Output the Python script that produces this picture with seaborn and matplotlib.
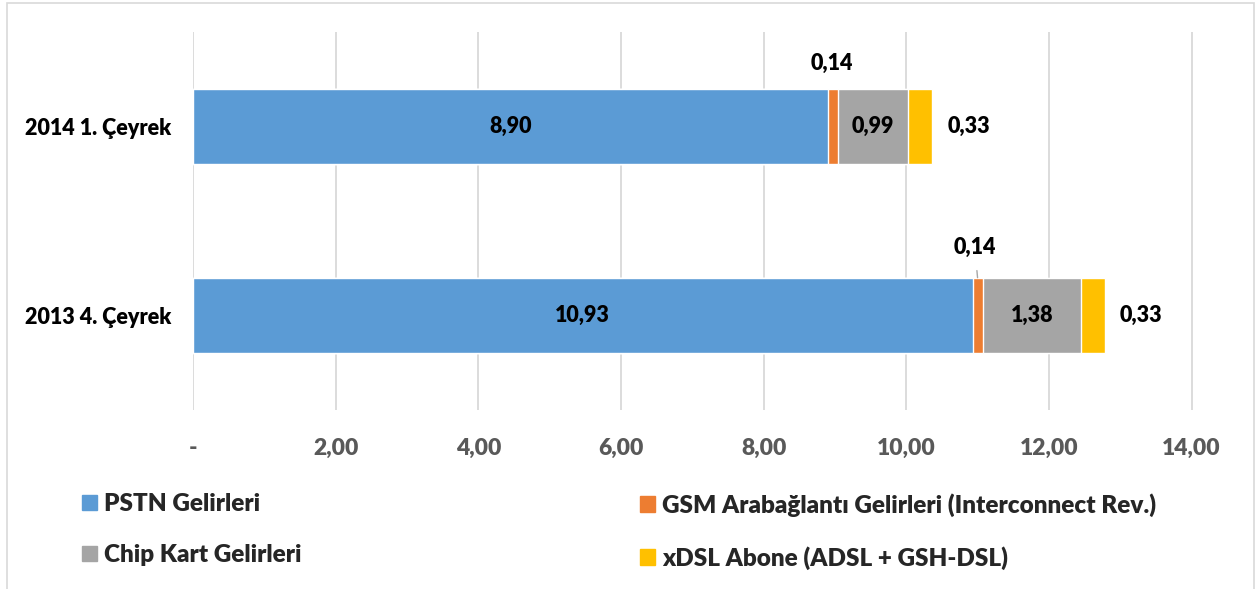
import matplotlib.pyplot as plt
import matplotlib.patches as mpatches
import seaborn as sns
import pandas as pd
import numpy as np

# data
categories = ["2014 1. Çeyrek", "2013 4. Çeyrek"]
series_names = ["PSTN Gelirleri", "GSM Arabağlantı Gelirleri (Interconnect Rev.)",
                "Chip Kart Gelirleri", "xDSL Abone (ADSL + GSH-DSL)"]
pstn = [8.90, 10.93]
gsm = [0.14, 0.14]
chip = [0.99, 1.38]
xdsl = [0.33, 0.33]
tick_values = [0, 2, 4, 6, 8, 10, 12, 14]
tick_labels = ["-", "2,00", "4,00", "6,00", "8,00", "10,00", "12,00", "14,00"]

colors = ["#5B9BD5", "#ED7D31", "#A5A5A5", "#FFC000"]

sns.set_style("white")
plt.rcParams["font.family"] = ["Lato", "DejaVu Sans"]
W = "heavy"
plt.rcParams["font.weight"] = W

values = np.array([pstn, gsm, chip, xdsl])
cum = np.cumsum(values, axis=0)

fig = plt.figure(figsize=(12.58, 5.89), dpi=100)
ax = fig.add_axes([0.1534, 0.3039, 0.7949, 0.6418])

# stacked bars drawn as overlaid cumulative totals, largest first
for i in range(len(series_names) - 1, -1, -1):
    df = pd.DataFrame({"cat": categories, "val": cum[i]})
    sns.barplot(data=df, x="val", y="cat", color=colors[i], width=0.4,
                saturation=1, ax=ax, zorder=3)

ax.set_ylim(1.5, -0.5)
ax.set_xlim(0, 14.02)
ax.set_xticks(tick_values)
ax.set_xticklabels(tick_labels, color="#595959", fontsize=16.5, fontweight=W)
ax.set_yticklabels(categories, fontsize=15.5, fontweight=W, color="black")
ax.tick_params(axis="x", length=0, pad=20)
ax.tick_params(axis="y", length=0, pad=16)
ax.set_xlabel("")
ax.set_ylabel("")
ax.grid(axis="x", color="#D9D9D9", linewidth=1.3, zorder=0)
ax.set_axisbelow(True)
for s in ax.spines.values():
    s.set_visible(False)

lab_kw = dict(fontsize=15.5, fontweight=W, color="black", zorder=5)
for j in range(len(categories)):
    # centred labels for PSTN and chip
    ax.text(values[0][j] / 2, j, f"{pstn[j]:.2f}".replace(".", ","),
            ha="center", va="center", **lab_kw)
    ax.text(cum[1][j] + values[2][j] / 2, j, f"{chip[j]:.2f}".replace(".", ","),
            ha="center", va="center", **lab_kw)
    # xDSL label right of bar
    ax.annotate(f"{xdsl[j]:.2f}".replace(".", ","), xy=(cum[3][j], j),
                xytext=(11, 0), textcoords="offset points",
                ha="left", va="center", **lab_kw)

# GSM labels above the bar
gx0 = cum[0][0] + gsm[0] / 2
ax.annotate(f"{gsm[0]:.2f}".replace(".", ","), xy=(gx0, -0.2),
            xytext=(-1, 18), textcoords="offset points",
            ha="center", va="center", **lab_kw)
gx1 = cum[0][1] + gsm[1] / 2
ax.annotate(f"{gsm[1]:.2f}".replace(".", ","), xy=(gx1, 0.8),
            xytext=(-2, 22), textcoords="offset points",
            ha="center", va="center",
            arrowprops=dict(arrowstyle="-", color="#A6A6A6", lw=1,
                            shrinkA=7, shrinkB=0), **lab_kw)

# legend, two columns
handles = [mpatches.Patch(color=c, label=n) for c, n in zip(colors, series_names)]
leg_kw = dict(frameon=False, handlelength=0.6, handleheight=0.6,
              handletextpad=0.3, labelspacing=1.2, borderpad=0, borderaxespad=0,
              prop={"weight": W, "size": 17.5})
leg1 = fig.legend(handles=[handles[0], handles[2]], loc="upper left",
                  bbox_to_anchor=(82 / 1258, 1 - 493 / 589), **leg_kw)
leg2 = fig.legend(handles=[handles[1], handles[3]], loc="upper left",
                  bbox_to_anchor=(640 / 1258, 1 - 493 / 589), **leg_kw)

# outer frame
fig.add_artist(mpatches.Rectangle((7 / 1258, -0.01), 1247 / 1258, 1 - 3 / 589 + 0.01,
                                  transform=fig.transFigure, fill=False,
                                  edgecolor="#D9D9D9", linewidth=1.2))

fig.savefig("out.png", dpi=100)
